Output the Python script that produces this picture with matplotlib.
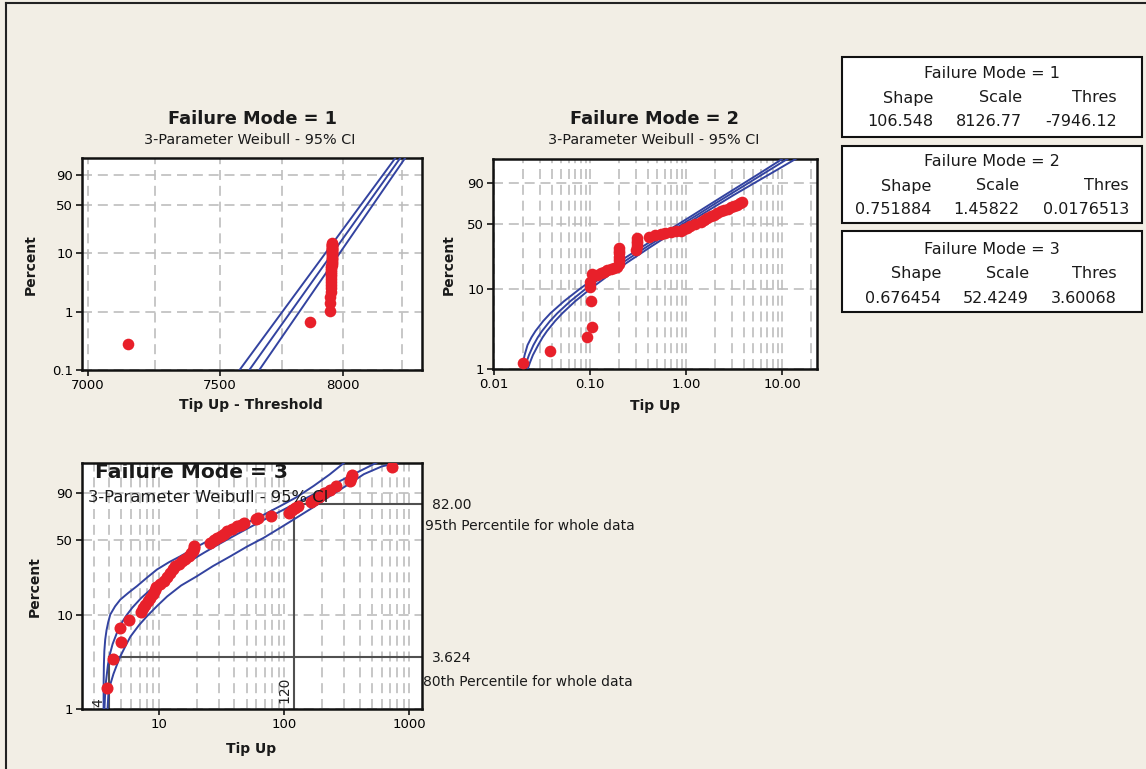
import numpy as np
import matplotlib
matplotlib.use("Agg")
import matplotlib.pyplot as plt
from matplotlib.ticker import FixedLocator, NullLocator, FixedFormatter, NullFormatter
from matplotlib.patches import Rectangle
from matplotlib.lines import Line2D

# ---------------- data ----------------
# Failure Mode 1 (x = Tip Up - Threshold)
fm1_x = [7147, 7864, 7946, 7947, 7947, 7948, 7948, 7949, 7949, 7950, 7950, 7950,
         7951, 7951, 7951, 7951, 7952, 7952, 7952, 7952, 7952, 7952, 7953, 7953,
         7953, 7953, 7953, 7953, 7953, 7953, 7953, 7953, 7953, 7953, 7953, 7953, 7953, 7953]
fm1_pct = [0.28, 0.67, 1.03, 1.40, 1.78, 2.15, 2.53, 2.91, 3.29, 3.67, 4.05, 4.43,
           4.81, 5.19, 5.57, 5.95, 6.33, 6.71, 7.09, 7.47, 7.85, 8.23, 8.61, 8.99,
           9.37, 9.75, 10.13, 10.51, 10.89, 11.27, 11.65, 12.03, 12.41, 12.79, 13.17,
           13.55, 13.93, 14.30]
fm1_line_pct = [0.09, 99.2]
fm1_fit_x = [7609, 8248]
fm1_upper_x = [7570, 8227]
fm1_lower_x = [7649, 8269]

# Failure Mode 2
fm2_x = [0.0202, 0.0382, 0.094, 0.1044, 0.1035, 0.100, 0.100, 0.106, 0.1197, 0.130,
         0.140, 0.152, 0.164, 0.178, 0.192, 0.200, 0.200, 0.200, 0.200, 0.200, 0.200,
         0.300, 0.305, 0.310, 0.310, 0.312, 0.411, 0.480, 0.545, 0.610, 0.690, 0.780,
         0.880, 0.950, 1.02, 1.11, 1.25, 1.42, 1.55, 1.65, 1.80, 1.95, 2.10, 2.30,
         2.50, 2.70, 2.92, 3.15, 3.40, 3.62, 3.86]
fm2_pct = [1.2, 1.7, 2.5, 3.4, 7.1, 10.5, 12.1, 15.1, 14.5, 15.2,
           15.8, 16.4, 17.0, 17.6, 18.1, 19.5, 21.6, 23.5, 25.5, 27.3, 29.0,
           27.9, 30.4, 32.8, 34.8, 36.9, 38.3, 39.5, 40.3, 41.2, 42.2, 42.9,
           43.5, 45.2, 46.2, 47.7, 50.0, 52.7, 54.5, 56.0, 58.0, 60.0, 61.5, 63.4,
           64.8, 66.3, 67.7, 69.2, 70.8, 72.0, 73.0]
fm2_line_pct = [0.5, 0.7, 1, 1.2, 1.5, 2, 2.5, 3, 4, 5, 7, 10, 15, 20, 30, 40, 50,
                60, 70, 80, 90, 95, 99.5]
fm2_fit_x = [0.0189, 0.01965, 0.0209, 0.02175, 0.0232, 0.0258, 0.02863, 0.0317,
             0.03837, 0.0457, 0.06217, 0.0908, 0.148, 0.216, 0.388, 0.615, 0.913,
             1.32, 1.88, 2.76, 4.44, 6.29, 13.4]
fm2_upper_x = [0.0187, 0.01906, 0.0196, 0.02012, 0.0209, 0.0224, 0.02462, 0.0271,
               0.03261, 0.0388, 0.05347, 0.079, 0.130, 0.192, 0.349, 0.553, 0.831,
               1.20, 1.71, 2.50, 4.00, 5.66, 11.8]
fm2_lower_x = [0.0195, 0.02063, 0.0225, 0.02371, 0.0255, 0.0289, 0.03215, 0.0357,
               0.04336, 0.0516, 0.06994, 0.1017, 0.164, 0.240, 0.427, 0.677, 1.004,
               1.45, 2.09, 3.09, 5.11, 7.42, 16.5]

# Failure Mode 3
fm3_x = [3.83, 4.25, 4.98, 4.90, 5.78, 7.2, 7.5, 7.76, 8.1, 8.5, 8.9, 9.3, 9.5, 10.1,
         10.9, 11.6, 12.3, 12.9, 13.5, 14.4, 15.3, 16.2, 17.2, 18.0, 18.5, 18.9, 19.0,
         25.7, 27.3, 29.0, 31.0, 33.0, 35.0, 38.0, 42.0, 45.0, 47.5, 59.8, 61.5, 78.7,
         108.6, 115, 122, 130, 165, 172, 190, 207, 230, 257, 335, 340, 345, 730]
fm3_pct = [1.7, 3.5, 5.2, 7.4, 8.9, 10.8, 11.8, 12.9, 14.0, 15.1, 16.6, 18.2, 19.5, 20.5,
           22.0, 24.2, 26.5, 28.5, 30.4, 32.0, 33.7, 35.4, 37.2, 39.5, 41.5, 43.8, 45.5,
           48.0, 50.0, 52.2, 54.0, 55.5, 58.3, 59.8, 62.9, 64.0, 65.5, 69.0, 70.5, 72.0,
           75.0, 77.0, 78.8, 80.6, 84.0, 85.5, 87.0, 90.0, 91.5, 93.4, 95.5, 96.5, 97.2, 98.7]
fm3_fit_pct = [0.5, 1, 1.5, 2, 3, 4, 5, 7, 8.5, 10, 12, 15, 20, 25, 30, 35, 40, 45, 50,
               55, 60, 65, 70, 75, 80, 85, 90, 95, 97.5, 99, 99.5]
fm3_fit_x = [3.6216, 3.659, 3.707, 3.764, 3.901, 4.064, 4.250, 4.685, 5.063, 5.483,
             6.106, 7.174, 9.308, 11.91, 15.02, 18.69, 23.02, 28.10, 34.1, 41.19,
             49.67, 59.93, 72.58, 88.56, 109.5, 138.7, 183.5, 269, 364.6, 504.7, 620]
fm3_upper_pct = [0.5, 1.0, 2.0, 3.0, 4.2, 5.6, 7.0, 8.5, 10.2, 12.4, 14.5, 17.0, 19.7,
                 23.8, 28.3, 33.0, 37.2, 44.5, 52.2, 59.5, 66.0, 73.0, 80.6, 87.0,
                 93.4, 97.3, 99.4]
fm3_upper_x = [3.60, 3.60, 3.605, 3.62, 3.65, 3.71, 3.80, 3.92, 4.07, 4.45, 4.9, 5.7,
               6.65, 8.0, 9.6, 12.0, 14.8, 20, 27.3, 37, 50.4, 68, 93, 125, 172, 230, 316]
fm3_lower_pct = [0.5, 1.0, 1.5, 1.9, 2.4, 3.0, 3.7, 4.8, 6.0, 7.9, 9.8, 12.6, 15.6, 20,
                 24.5, 30.5, 37.2, 44.5, 52.2, 61, 70.7, 79.5, 87.9, 93.8, 97.4, 98.8, 99.3]
fm3_lower_x = [3.80, 3.87, 3.94, 4.10, 4.32, 4.6, 4.9, 5.4, 5.9, 6.9, 8.0, 9.7, 11.6, 15,
               20, 27, 37.2, 50, 68.5, 92, 126, 170, 233, 320, 433, 600, 851]

# reference lines (panel 3)
p95_x, p95_pct = 120, 82.00
p80_x, p80_pct = 4.0, 3.624

# parameter tables
tables = [
    ("Failure Mode = 1", ["106.548", "8126.77", "-7946.12"]),
    ("Failure Mode = 2", ["0.751884", "1.45822", "0.0176513"]),
    ("Failure Mode = 3", ["0.676454", "52.4249", "3.60068"]),
]
table_cols = ["Shape", "Scale", "Thres"]

# ---------------- styling ----------------
W, H = 1146, 769
BG = "#F2EEE5"
RED = "#E8202A"
BLUE = "#3343A0"
GRID = "#BDBDBD"

fig = plt.figure(figsize=(W / 100, H / 100), dpi=100)
fig.patch.set_facecolor(BG)


def fx(px):
    return px / W


def fy(py):
    return 1 - py / H


def weib_fwd(p):
    p = np.clip(np.asarray(p, dtype=float), 1e-4, 99.9999) / 100.0
    return np.log(-np.log1p(-p))


def weib_inv(w):
    return 100.0 * (-np.expm1(-np.exp(w)))


def make_axes(l, t, r, b):
    return fig.add_axes([fx(l), fy(b), (r - l) / W, (b - t) / H])


def setup(ax, xlim, ylim, xt, xtl, xminor, yt, ytl):
    ax.set_facecolor("white")
    ax.set_xscale("log")
    ax.set_yscale("function", functions=(weib_fwd, weib_inv))
    ax.set_xlim(*xlim)
    ax.set_ylim(*ylim)
    ax.xaxis.set_major_locator(FixedLocator(xt))
    ax.xaxis.set_major_formatter(FixedFormatter(xtl))
    ax.xaxis.set_minor_locator(FixedLocator(xminor))
    ax.xaxis.set_minor_formatter(NullFormatter())
    ax.yaxis.set_major_locator(FixedLocator(yt))
    ax.yaxis.set_major_formatter(FixedFormatter(ytl))
    ax.yaxis.set_minor_locator(NullLocator())
    ax.tick_params(which="major", direction="out", length=4.5, width=1.1,
                   labelsize=9.5, pad=2, colors="black")
    ax.tick_params(which="minor", length=0)
    ax.grid(True, which="both", axis="x", color=GRID, lw=1.2, ls=(0, (6, 3.5)))
    ax.grid(True, which="major", axis="y", color=GRID, lw=1.2, ls=(0, (6, 3.5)))
    ax.set_axisbelow(True)
    for s in ax.spines.values():
        s.set_linewidth(1.8)
        s.set_color("#111111")


def curves(ax, xs_list, ps_list):
    for xs, ps in zip(xs_list, ps_list):
        ax.plot(xs, ps, color=BLUE, lw=1.4, zorder=3, solid_joinstyle="round")


# ---------- panel 1 ----------
ax1 = make_axes(82, 158, 422, 370)
setup(ax1, (6978, 8337), (0.1, 98.9), [7000, 7500, 8000], ["7000", "7500", "8000"],
      [7250, 7750, 8250], [0.1, 1, 10, 50, 90], ["0.1", "1", "10", "50", "90"])
curves(ax1, [fm1_upper_x, fm1_fit_x, fm1_lower_x], [fm1_line_pct] * 3)
ax1.scatter(fm1_x, fm1_pct, s=70, color=RED, zorder=5, linewidths=0)

# ---------- panel 2 ----------
ax2 = make_axes(493, 159, 817, 369)
minor2 = [m * d for d in (0.01, 0.1, 1, 10) for m in range(2, 10)]
setup(ax2, (0.0098, 23), (1, 99.05), [0.01, 0.1, 1, 10], ["0.01", "0.10", "1.00", "10.00"],
      minor2, [1, 10, 50, 90], ["1", "10", "50", "90"])
curves(ax2, [fm2_upper_x, fm2_fit_x, fm2_lower_x], [fm2_line_pct] * 3)
ax2.scatter(fm2_x, fm2_pct, s=70, color=RED, zorder=5, linewidths=0)

# ---------- panel 3 ----------
ax3 = make_axes(82, 463, 421.5, 709)
minor3 = [m * d for d in (1, 10, 100) for m in range(2, 10)]
setup(ax3, (2.42, 1250), (1, 99.2), [10, 100, 1000], ["10", "100", "1000"],
      minor3, [1, 10, 50, 90], ["1", "10", "50", "90"])
refc = "#505050"
ax3.plot([p95_x, p95_x], [1, p95_pct], color=refc, lw=1.5, zorder=2)
ax3.plot([p95_x, 1250], [p95_pct, p95_pct], color=refc, lw=1.5, zorder=2)
ax3.plot([p80_x, p80_x], [1, p80_pct], color=refc, lw=1.5, zorder=2)
ax3.plot([p80_x, 1250], [p80_pct, p80_pct], color=refc, lw=1.5, zorder=2)
curves(ax3, [fm3_upper_x, fm3_fit_x, fm3_lower_x], [fm3_upper_pct, fm3_fit_pct, fm3_lower_pct])
ax3.scatter(fm3_x, fm3_pct, s=75, color=RED, zorder=5, linewidths=0)
ax3.annotate("120", xy=(p95_x, 1), xytext=(-2, 4), textcoords="offset points",
             rotation=90, ha="right", va="bottom", fontsize=10, color="#222222")
ax3.annotate("4", xy=(p80_x, 1), xytext=(-3, 1.5), textcoords="offset points",
             rotation=90, ha="right", va="bottom", fontsize=10, color="#222222",
             annotation_clip=False, zorder=4)

# ---------- titles & labels ----------
tkw = dict(ha="center", va="center", color="#1a1a1a")
fig.text(fx(252), fy(119), "Failure Mode = 1", fontsize=12.8, fontweight="bold", **tkw)
fig.text(fx(250), fy(140), "3-Parameter Weibull - 95% CI", fontsize=10.4, **tkw)
fig.text(fx(654), fy(119), "Failure Mode = 2", fontsize=12.8, fontweight="bold", **tkw)
fig.text(fx(654), fy(140), "3-Parameter Weibull - 95% CI", fontsize=10.4, **tkw)
fig.text(fx(95), fy(472), "Failure Mode = 3", fontsize=14.6, fontweight="bold",
         ha="left", va="center", color="#1a1a1a", zorder=6)
fig.text(fx(88), fy(497), "3-Parameter Weibull - 95% CI", fontsize=11.8,
         ha="left", va="center", color="#1a1a1a", zorder=6)

lkw = dict(fontsize=10, fontweight="bold", color="#1a1a1a", ha="center", va="center")
fig.text(fx(31), fy(265), "Percent", rotation=90, **lkw)
fig.text(fx(251), fy(405), "Tip Up - Threshold", **lkw)
fig.text(fx(449), fy(265), "Percent", rotation=90, **lkw)
fig.text(fx(655), fy(406), "Tip Up", **lkw)
fig.text(fx(35), fy(587), "Percent", rotation=90, **lkw)
fig.text(fx(251), fy(749), "Tip Up", **lkw)

akw = dict(fontsize=10, color="#1a1a1a", ha="left", va="center")
fig.text(fx(432), fy(505), "82.00", **akw)
fig.text(fx(425), fy(526), "95th Percentile for whole data", **akw)
fig.text(fx(432), fy(658), "3.624", **akw)
fig.text(fx(423), fy(682), "80th Percentile for whole data", **akw)

# ---------- parameter tables ----------
boxes = [(57, 137, 73, 98, 122, (933, 1022, 1117)),
         (146, 223, 162, 186, 210, (931, 1019, 1129)),
         (231, 312, 250, 273, 298, (941, 1029, 1117))]
for (title, vals), (top, bot, yh, yc, yv, rights) in zip(tables, boxes):
    fig.add_artist(Rectangle((fx(842), fy(bot)), 300 / W, (bot - top) / H,
                             transform=fig.transFigure, facecolor="white",
                             edgecolor="#111111", lw=1.5))
    fig.text(fx(992), fy(yh), title, fontsize=11.5, ha="center", va="center", color="#1a1a1a")
    for c, v, rx in zip(table_cols, vals, rights):
        fig.text(fx(rx), fy(yc), c, fontsize=11.5, ha="right", va="center", color="#1a1a1a")
        fig.text(fx(rx), fy(yv), v, fontsize=11.5, ha="right", va="center", color="#1a1a1a")

# ---------- outer frame ----------
fig.add_artist(Line2D([fx(6), fx(6)], [fy(3), 0], transform=fig.transFigure,
                      color="#222222", lw=1.5))
fig.add_artist(Line2D([fx(6), 1], [fy(3), fy(3)], transform=fig.transFigure,
                      color="#222222", lw=1.5))

fig.savefig("out.png", dpi=100, facecolor=BG)
